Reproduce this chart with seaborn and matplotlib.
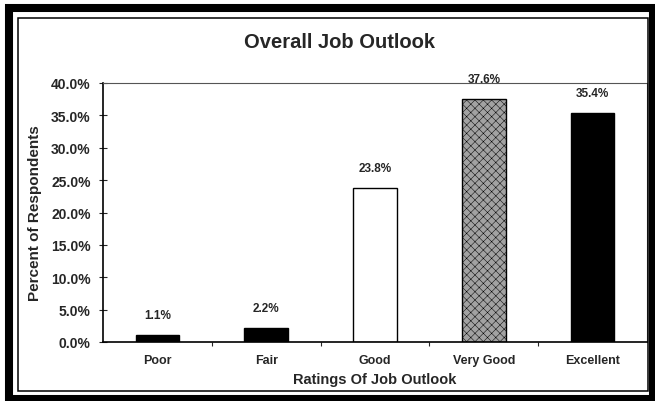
import matplotlib
matplotlib.use("Agg")
import matplotlib.pyplot as plt
import matplotlib.patches as mpatches
import seaborn as sns
import pandas as pd
from matplotlib.ticker import FuncFormatter, FixedLocator

# --- data ---
ratings = ["Poor", "Fair", "Good", "Very Good", "Excellent"]
percent = [1.1, 2.2, 23.8, 37.6, 35.4]
bar_colors = ["#000000", "#000000", "#ffffff", "#a2a2a2", "#000000"]
bar_hatches = ["", "", "", "xxxx", ""]
y_ticks = [0, 5, 10, 15, 20, 25, 30, 35, 40]

df = pd.DataFrame({"Rating": ratings, "Percent": percent})

sns.set_style("white")
plt.rcParams["font.family"] = ["Liberation Sans", "DejaVu Sans"]
plt.rcParams["hatch.linewidth"] = 0.35

fig = plt.figure(figsize=(6.55, 4.02), dpi=100)
ax = fig.add_axes([103 / 655, 59 / 402, 544 / 655, 259 / 402])

sns.barplot(data=df, x="Rating", y="Percent", hue="Rating", order=ratings,
            hue_order=ratings, palette=dict(zip(ratings, bar_colors)),
            width=0.4, edgecolor="black", linewidth=1, legend=False, ax=ax)

for cont, h in zip(ax.containers, bar_hatches):
    for bar in cont:
        bar.set_hatch(h)

# value labels above bars
for cont in ax.containers:
    for bar in cont:
        v = bar.get_height()
        ax.annotate(f"{v:.1f}%", (bar.get_x() + bar.get_width() / 2, v),
                    xytext=(0, 10), textcoords="offset points",
                    ha="center", va="bottom", fontsize=8.5, fontweight="bold")

ax.set_xlim(-0.5, 4.5)
ax.set_ylim(0, 40)
ax.yaxis.set_major_locator(FixedLocator(y_ticks))
ax.yaxis.set_major_formatter(FuncFormatter(lambda v, p: f"{v:.1f}%"))
ax.tick_params(axis="y", direction="inout", length=6, width=0.8, pad=6,
               labelsize=10, left=True)
for lab in ax.get_yticklabels():
    lab.set_fontweight("bold")

ax.xaxis.set_minor_locator(FixedLocator([0.5, 1.5, 2.5, 3.5]))
ax.tick_params(axis="x", which="major", length=0, pad=9, labelsize=9)
ax.tick_params(axis="x", which="minor", direction="out", length=3, width=0.8,
               bottom=True)
for lab in ax.get_xticklabels():
    lab.set_fontweight("bold")

ax.set_xlabel("Ratings Of Job Outlook", fontsize=10.5, fontweight="bold", labelpad=4)
ax.set_ylabel("Percent of Respondents", fontsize=11, fontweight="bold")
ax.yaxis.set_label_coords(-0.112, 0.5)

for side in ["left", "bottom"]:
    ax.spines[side].set_color("black")
    ax.spines[side].set_linewidth(1.2)
for side in ["top", "right"]:
    ax.spines[side].set_color("#555555")
    ax.spines[side].set_linewidth(0.8)

fig.text(339 / 655, 1 - 43 / 402, "Overall Job Outlook", ha="center", va="center",
         fontsize=14.5, fontweight="bold")

# chart frame: thick outer border and thin inner border
fig.patches.append(mpatches.Rectangle((9 / 655, 2 / 402), 644 / 655, 391 / 402,
                                      transform=fig.transFigure, fill=False,
                                      edgecolor="black", linewidth=5.8))
fig.patches.append(mpatches.Rectangle((18 / 655, 10 / 402), 630 / 655, 373 / 402,
                                      transform=fig.transFigure, fill=False,
                                      edgecolor="black", linewidth=1.1))

fig.savefig("out.png", dpi=100)
plt.close(fig)
